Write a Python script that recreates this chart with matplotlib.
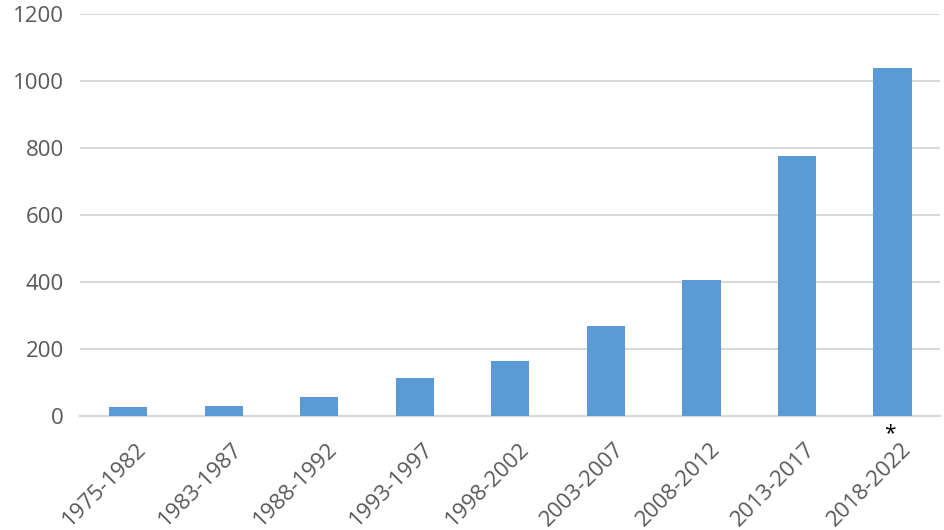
import numpy as np
import matplotlib.pyplot as plt
import matplotlib.transforms as mtransforms

periods = ["1975-1982", "1983-1987", "1988-1992", "1993-1997", "1998-2002",
           "2003-2007", "2008-2012", "2013-2017", "2018-2022"]
counts = [26, 30, 57, 113, 164, 269, 406, 776, 1039]
yticks = [0, 200, 400, 600, 800, 1000, 1200]

plt.rcParams['font.family'] = ['Open Sans', 'DejaVu Sans']
text_color = "#595959"

fig = plt.figure(figsize=(9.45, 5.3), dpi=100)
ax = fig.add_axes([0.085, 0.215, 0.91, 0.759])

x = np.arange(len(periods))
ax.bar(x, counts, width=0.4, color="#5b9bd5", zorder=3)

ax.set_xlim(-0.5, len(periods) - 0.5)
ax.set_ylim(0, 1200)
ax.set_yticks(yticks)
ax.yaxis.grid(True, color="#d9d9d9", linewidth=1.5, zorder=0)
ax.set_xticks(x)
ax.set_xticklabels(periods, rotation=45, ha="right", rotation_mode="anchor")

ax.tick_params(axis="both", length=0, labelsize=16, colors=text_color)
ax.tick_params(axis="y", pad=12)
ax.tick_params(axis="x", pad=16)
shift = mtransforms.ScaledTranslation(0.08, 0, fig.dpi_scale_trans)
for lab in ax.get_xticklabels():
    lab.set_transform(lab.get_transform() + shift)
for s in ["top", "right", "left"]:
    ax.spines[s].set_visible(False)
ax.spines["bottom"].set_color("#d9d9d9")
ax.spines["bottom"].set_linewidth(1.5)

# asterisk marking the last (incomplete) period
ax.annotate("*", xy=(x[-1], 0), xytext=(-2, -13), textcoords="offset points",
            ha="center", va="center", fontsize=15, color="black")

fig.savefig("out.png", dpi=100)
